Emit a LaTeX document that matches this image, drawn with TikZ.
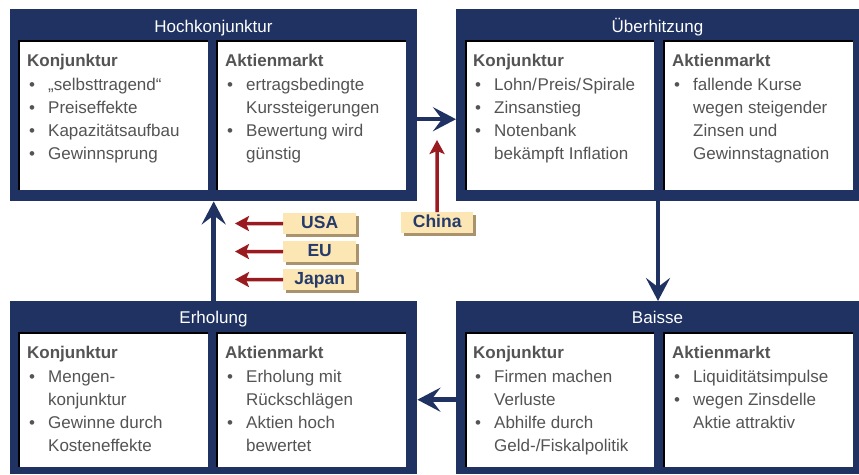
\documentclass[tikz,border=0pt]{standalone}
\usepackage{fontspec}
\setmainfont{Liberation Sans}
\usetikzlibrary{arrows.meta}
\definecolor{navy}{HTML}{1F3261}
\definecolor{dred}{HTML}{9A1B1F}
\definecolor{cream}{HTML}{FCE6B3}
\definecolor{tanshade}{HTML}{A8936C}
\definecolor{txt}{HTML}{545454}
\definecolor{labtxt}{HTML}{253B6C}
\newcommand\bul{\hspace*{2pt}\makebox[19pt][l]{\textbullet}}
\newcommand\cont{\hspace*{21pt}}
\tikzset{
  outerbox/.style={fill=navy, anchor=north west, inner sep=0pt, minimum width=#1},
  innerbox/.style={fill=white, anchor=north west, inner sep=0pt, minimum width=#1,
    path picture={\draw[line width=4pt,black] (path picture bounding box.south west) -- (path picture bounding box.north west) -- (path picture bounding box.north east);}},
  titletext/.style={text=white, anchor=base, inner sep=0pt, font=\fontsize{17}{20}\selectfont},
  bodytext/.style={text=txt, anchor=north west, inner sep=0pt, align=left, font=\fontsize{17}{23}\selectfont},
  labbox/.style={fill=cream, anchor=north west, inner sep=0pt, minimum height=21pt,
    text height=12.5pt, text depth=3.5pt,
    text=labtxt, font=\fontsize{17.5}{20}\selectfont\bfseries,
    preaction={fill=tanshade, transform canvas={xshift=2.5pt,yshift=-2.5pt}}},
  navyarrow/.style={draw=navy, line width=4.5pt, -{Stealth[length=23pt,width=24pt,inset=9pt]}},
  redarrow/.style={draw=dred, line width=3.5pt, -{Stealth[length=14pt,width=15pt,inset=3pt]}},
}
\begin{document}
\begin{tikzpicture}[x=1pt,y=-1pt]
\useasboundingbox (0,0) rectangle (859,474);

% ---------- Hochkonjunktur ----------
\node[outerbox=407pt, minimum height=192pt] (hk) at (10,9) {};
\node[titletext] (hkt) at (213.5,32) {Hochkonjunktur};
\node[innerbox=190pt, minimum height=150pt] (hk1) at (18,40) {};
\node[innerbox=190pt, minimum height=150pt] (hk2) at (216,40) {};
\node[bodytext] (hk1t) at (27,53.8) {\textbf{Konjunktur}\\[1pt]
\bul „selbsttragend“\\
\bul Preiseffekte\\
\bul Kapazitätsaufbau\\
\bul Gewinnsprung};
\node[bodytext] (hk2t) at (225,53.8) {\textbf{Aktienmarkt}\\[1pt]
\bul ertragsbedingte\\
\cont Kurssteigerungen\\
\bul Bewertung wird\\
\cont günstig};

% ---------- Überhitzung ----------
\node[outerbox=403pt, minimum height=192pt] (ub) at (456,9) {};
\node[titletext] (ubt) at (657.5,32) {Überhitzung};
\node[innerbox=189pt, minimum height=150pt] (ub1) at (465,40) {};
\node[innerbox=190pt, minimum height=150pt] (ub2) at (663,40) {};
\node[bodytext] (ub1t) at (473,53.8) {\textbf{Konjunktur}\\[1pt]
\bul Lohn/\kern1pt Preis/\kern1pt Spirale\\
\bul Zinsanstieg\\
\bul Notenbank\\
\cont bekämpft Inflation};
\node[bodytext] (ub2t) at (672,53.8) {\textbf{Aktienmarkt}\\[1pt]
\bul fallende Kurse\\
\cont wegen steigender\\
\cont Zinsen und\\
\cont Gewinnstagnation};

% ---------- Erholung ----------
\node[outerbox=407pt, minimum height=173pt] (er) at (10,301) {};
\node[titletext] (ert) at (213.5,323) {Erholung};
\node[innerbox=190pt, minimum height=135pt] (er1) at (18,332) {};
\node[innerbox=190pt, minimum height=135pt] (er2) at (216,332) {};
\node[bodytext] (er1t) at (27,345.8) {\textbf{Konjunktur}\\[1pt]
\bul Mengen-\\
\cont konjunktur\\
\bul Gewinne durch\\
\cont Kosteneffekte};
\node[bodytext] (er2t) at (225,345.8) {\textbf{Aktienmarkt}\\[1pt]
\bul Erholung mit\\
\cont Rückschlägen\\
\bul Aktien hoch\\
\cont bewertet};

% ---------- Baisse ----------
\node[outerbox=403pt, minimum height=173pt] (bs) at (456,301) {};
\node[titletext] (bst) at (657.5,323) {Baisse};
\node[innerbox=189pt, minimum height=135pt] (bs1) at (465,332) {};
\node[innerbox=190pt, minimum height=135pt] (bs2) at (663,332) {};
\node[bodytext] (bs1t) at (473,345.8) {\textbf{Konjunktur}\\[1pt]
\bul Firmen machen\\
\cont Verluste\\
\bul Abhilfe durch\\
\cont Geld-/Fiskalpolitik};
\node[bodytext] (bs2t) at (672,345.8) {\textbf{Aktienmarkt}\\[1pt]
\bul Liquiditätsimpulse\\
\bul wegen Zinsdelle\\
\cont Aktie attraktiv};

% ---------- cycle arrows ----------
\draw[navyarrow] ([yshift=-14pt]hk.east) -- ([yshift=-14pt]ub.west);
\draw[navyarrow] (ub.south -| 658,0) -- (bs.north -| 658,0);
\draw[navyarrow] ([yshift=-12pt]bs.west) -- ([yshift=-12pt]er.east);
\draw[navyarrow] (er.north) -- (hk.south);

% ---------- labels ----------
\node[labbox, minimum width=73pt] (usa) at (283,213) {USA};
\node[labbox, minimum width=73pt] (eu) at (283,241) {EU};
\node[labbox, minimum width=73pt] (jp) at (283,269) {Japan};
\node[labbox, minimum width=72pt] (cn) at (401,212) {China};
\coordinate (usaend) at (235,223.5);
\coordinate (euend) at (235,251.5);
\coordinate (jpend) at (235,279.5);
\coordinate (cnend) at (437,140);
\draw[redarrow] (usa.west) -- (usaend);
\draw[redarrow] (eu.west) -- (euend);
\draw[redarrow] (jp.west) -- (jpend);
\draw[redarrow] (cn.north) -- (cnend);
\end{tikzpicture}
\end{document}
